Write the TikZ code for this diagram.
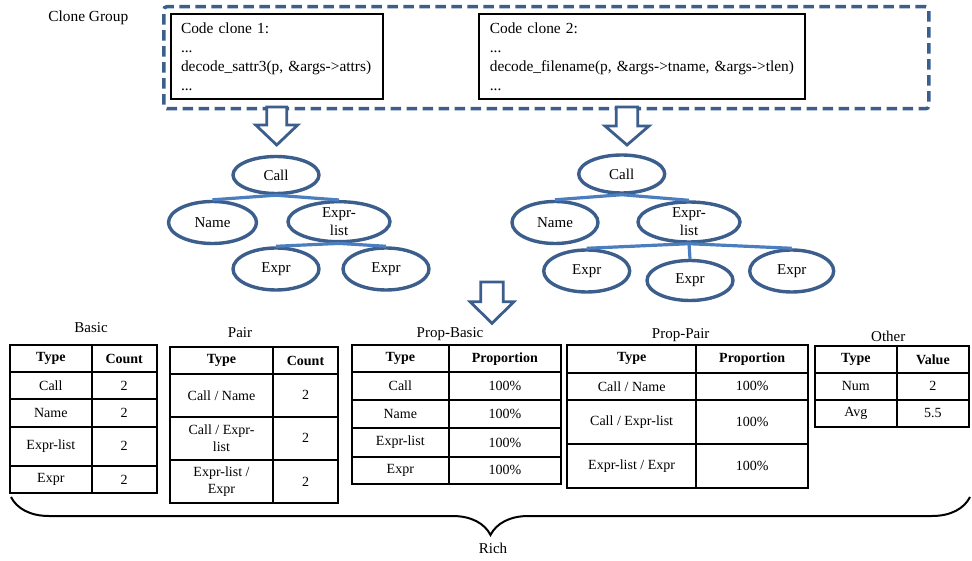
\documentclass[tikz,border=0pt]{standalone}
\usepackage{fontspec}
\setmainfont{Liberation Serif}
\usetikzlibrary{shapes.geometric,decorations.pathreplacing}
\definecolor{dblue}{RGB}{60,94,140}
\definecolor{lblue}{RGB}{74,126,190}
\tikzset{
  treenode/.style={ellipse, draw=dblue, line width=3.4pt, fill=white, inner sep=0pt, font=\fontsize{15}{18.3}\selectfont, align=center},
  treeedge/.style={draw=lblue, line width=3.2pt},
  codebox/.style={draw=black, line width=2pt, inner xsep=10pt, inner ysep=0pt, align=left, font=\fontsize{15.4}{18.7}\selectfont, anchor=north west},
  groupbox/.style={draw=dblue, line width=3.5pt, dash pattern=on 10.5pt off 5.5pt, rounded corners=3pt, inner sep=0pt, anchor=north west},
  tcell/.style={draw=black, line width=2pt, inner sep=0pt, align=center, font=\fontsize{14}{17.5}\selectfont},
  tlabel/.style={font=\fontsize{15}{18}\selectfont, inner sep=0pt},
  blockarrow/.style={draw=dblue, line width=2.8pt, fill=white, line join=miter},
}
\newcommand\tc[6]{\node[tcell, minimum width={#4-(#2)}, minimum height={#5-(#3)}] (#1) at ({(#2+#4)/2},{(#3+#5)/2}) {#6};}
\newcommand\blockarr[6]{\draw[blockarrow] ({#1-#3},#2) -- ({#1+#3},#2) -- ({#1+#3},#5) -- ({#1+#4},#5) -- (#1,#6) -- ({#1-#4},#5) -- ({#1-#3},#5) -- cycle;}
\begin{document}
\begin{tikzpicture}[x=1pt,y=-1pt]
\useasboundingbox (0,0) rectangle (972,561);

% clone group
\node[tlabel, font=\fontsize{15.4}{18}\selectfont] (cg) at (88.3,18) {Clone Group};
\node[groupbox, minimum width=765pt, minimum height=102pt] (group) at (162,5) {};
\node[codebox, text width=191.7pt, minimum height=85pt] (code1) at (170,13.3)
  {Code clone 1:\\...\\decode\_sattr3(p, \&args->attrs)\\...};
\node[codebox, text width=305pt, minimum height=85pt, inner xsep=10.5pt] (code2) at (478.3,13.3)
  {Code clone 2:\\...\\decode\_filename(p, \&args->tname, \&args->tlen)\\...};

% arrows
\blockarr{276.7}{107}{10}{21}{125}{145}
\blockarr{627}{107}{10.8}{22}{126}{145}
\blockarr{492}{282}{11.3}{22}{301.7}{323.3}

% tree 1
\node[treenode, minimum width=86pt, minimum height=37pt] (c1) at (276,175) {Call};
\node[treenode, minimum width=88pt, minimum height=42pt] (n1) at (212.5,222.5) {Name};
\node[treenode, minimum width=102pt, minimum height=40pt] (l1) at (339,221.7) {Expr-\\list};
\node[treenode, minimum width=86pt, minimum height=42pt] (ea1) at (276,269) {Expr};
\node[treenode, minimum width=86pt, minimum height=42pt] (eb1) at (386,269) {Expr};
\draw[treeedge] (c1.south) -- (n1.north);
\draw[treeedge] (c1.south) -- (l1.north);
\draw[treeedge] (l1.south) -- (ea1.north);
\draw[treeedge] (l1.south) -- (eb1.north);

% tree 2
\node[treenode, minimum width=86pt, minimum height=38pt] (c2) at (621.7,174) {Call};
\node[treenode, minimum width=86pt, minimum height=42pt] (n2) at (555,222.5) {Name};
\node[treenode, minimum width=102pt, minimum height=40pt] (l2) at (689,222) {Expr-\\list};
\node[treenode, minimum width=86pt, minimum height=42pt] (ea2) at (586.7,271) {Expr};
\node[treenode, minimum width=86pt, minimum height=40pt] (eb2) at (690,280.5) {Expr};
\node[treenode, minimum width=84pt, minimum height=42pt] (ec2) at (791.7,271) {Expr};
\draw[treeedge] (c2.south) -- (n2.north);
\draw[treeedge] (c2.south) -- (l2.north);
\draw[treeedge] (l2.south) -- (ea2.north);
\draw[treeedge] (l2.south) -- (eb2.north);
\draw[treeedge] (l2.south) -- (ec2.north);

% table labels
\node[tlabel] (lb) at (91,328) {Basic};
\node[tlabel] (lp) at (240,332.7) {Pair};
\node[tlabel] (lpb) at (450,334) {Prop-Basic};
\node[tlabel] (lpp) at (680.7,335) {Prop-Pair};
\node[tlabel] (lo) at (888.3,336.7) {Other};

% Basic
\tc{b00}{10}{345}{91.7}{372.3}{\textbf{Type}}
\tc{b01}{91.7}{345}{156.7}{372.3}{\textbf{Count}}
\tc{b10}{10}{372.3}{91.7}{399.3}{Call}
\tc{b11}{91.7}{372.3}{156.7}{399.3}{2}
\tc{b20}{10}{399.3}{91.7}{426.7}{Name}
\tc{b21}{91.7}{399.3}{156.7}{426.7}{2}
\tc{b30}{10}{426.7}{91.7}{466}{Expr-list}
\tc{b31}{91.7}{426.7}{156.7}{466}{2}
\tc{b40}{10}{466}{91.7}{493.3}{Expr}
\tc{b41}{91.7}{466}{156.7}{493.3}{2}

% Pair
\tc{p00}{170}{347.3}{273}{374}{\textbf{Type}}
\tc{p01}{273}{347.3}{338}{374}{\textbf{Count}}
\tc{p10}{170}{374}{273}{416.7}{Call / Name}
\tc{p11}{273}{374}{338}{416.7}{2}
\tc{p20}{170}{416.7}{273}{460}{Call / Expr-\\list}
\tc{p21}{273}{416.7}{338}{460}{2}
\tc{p30}{170}{460}{273}{503.3}{Expr-list /\\Expr}
\tc{p31}{273}{460}{338}{503.3}{2}

% Prop-Basic
\tc{q00}{351.7}{345}{449}{372.3}{\textbf{Type}}
\tc{q01}{449}{345}{560.7}{372.3}{\textbf{Proportion}}
\tc{q10}{351.7}{372.3}{449}{400}{Call}
\tc{q11}{449}{372.3}{560.7}{400}{100\%}
\tc{q20}{351.7}{400}{449}{428.3}{Name}
\tc{q21}{449}{400}{560.7}{428.3}{100\%}
\tc{q30}{351.7}{428.3}{449}{456.7}{Expr-list}
\tc{q31}{449}{428.3}{560.7}{456.7}{100\%}
\tc{q40}{351.7}{456.7}{449}{484}{Expr}
\tc{q41}{449}{456.7}{560.7}{484}{100\%}

% Prop-Pair
\tc{r00}{567.3}{345}{696}{372.7}{\textbf{Type}}
\tc{r01}{696}{345}{808.3}{372.7}{\textbf{Proportion}}
\tc{r10}{567.3}{372.7}{696}{400}{Call / Name}
\tc{r11}{696}{372.7}{808.3}{400}{100\%}
\tc{r20}{567.3}{400}{696}{444.3}{Call / Expr-list}
\tc{r21}{696}{400}{808.3}{444.3}{100\%}
\tc{r30}{567.3}{444.3}{696}{488.3}{Expr-list / Expr}
\tc{r31}{696}{444.3}{808.3}{488.3}{100\%}

% Other
\tc{o00}{815}{346}{896.7}{372.7}{\textbf{Type}}
\tc{o01}{896.7}{346}{969}{372.7}{\textbf{Value}}
\tc{o10}{815}{372.7}{896.7}{400}{Num}
\tc{o11}{896.7}{372.7}{969}{400}{2}
\tc{o20}{815}{400}{896.7}{426.7}{Avg}
\tc{o21}{896.7}{400}{969}{426.7}{5.5}

% brace
\coordinate (brR) at (970,497);
\coordinate (brL) at (11,497);
\draw[decorate, decoration={brace, amplitude=38pt}, line width=2pt] (brR) -- (brL);
\node[tlabel] (rich) at (493,548) {Rich};
\end{tikzpicture}
\end{document}
